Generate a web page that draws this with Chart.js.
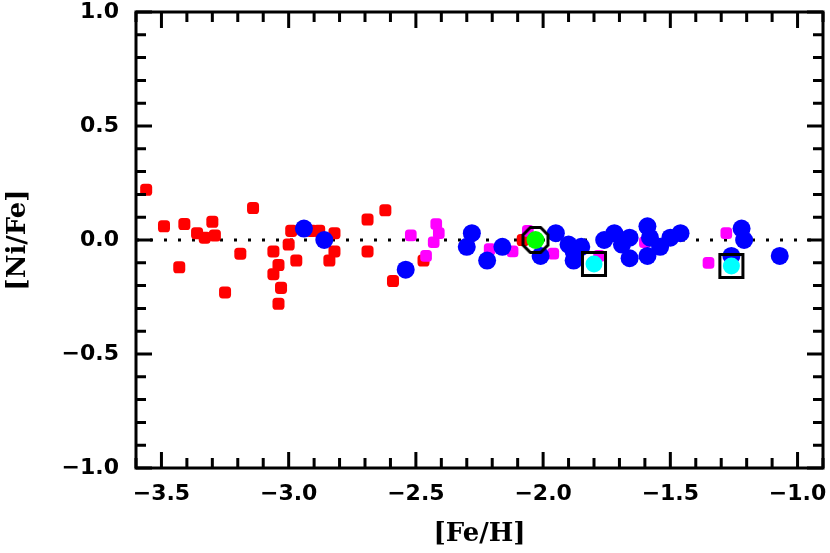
<!DOCTYPE html>
<html>
<head>
<meta charset="utf-8">
<script src="https://cdn.jsdelivr.net/npm/chart.js@4.4.1/dist/chart.umd.min.js"></script>
<style>
html,body{margin:0;padding:0;background:#fff;}
#c{display:block;}
</style>
</head>
<body>
<canvas id="c" width="830" height="553" style="width:830px;height:553px"></canvas>
<script>
// ---- data ----
const redX = [-3.56,-3.49,-3.41,-3.43,-3.36,-3.33,-3.30,-3.29,-3.25,-3.19,-3.14,-3.06,-3.04,-3.06,-3.03,-3.04,-2.99,-3.00,-2.97,-2.91,-2.88,-2.82,-2.82,-2.84,-2.69,-2.62,-2.69,-2.59,-2.47,-2.08];
const redY = [0.22,0.06,0.07,-0.12,0.03,0.01,0.08,0.02,-0.23,-0.06,0.14,-0.05,-0.11,-0.15,-0.21,-0.28,0.04,-0.02,-0.09,0.04,0.04,0.03,-0.05,-0.09,0.09,0.13,-0.05,-0.18,-0.09,0.00];

const magX = [-2.52,-2.42,-2.41,-2.43,-2.46,-2.21,-2.12,-2.06,-1.96,-1.78,-1.60,-1.28,-1.35];
const magY = [0.02,0.07,0.03,-0.01,-0.07,-0.04,-0.05,0.04,-0.06,-0.07,-0.01,0.03,-0.10];

const blueX = [-2.94,-2.86,-2.54,-2.28,-2.30,-2.22,-2.16,-2.01,-1.95,-1.90,-1.88,-1.88,-1.85,-1.76,-1.72,-1.69,-1.66,-1.66,-1.59,-1.58,-1.59,-1.54,-1.50,-1.46,-1.22,-1.21,-1.26,-1.07];
const blueY = [0.05,0.00,-0.13,0.03,-0.03,-0.09,-0.03,-0.07,0.03,-0.02,-0.09,-0.05,-0.03,0.00,0.03,-0.02,0.01,-0.08,0.06,0.01,-0.07,-0.03,0.01,0.03,0.05,0.00,-0.07,-0.07];

const greenX = [-2.03];
const greenY = [0.00];

const cyanX = [-1.80,-1.26];
const cyanY = [-0.105,-0.114];

const xTicks = [-3.5,-3.0,-2.5,-2.0,-1.5,-1.0];
const yTicks = [-1.0,-0.5,0.0,0.5,1.0];
const xRange = [-3.6,-0.9];
const yRange = [-1.0,1.0];
const refLine = [0.0];

// ---- helpers ----
const pts = (xs, ys) => xs.map((v,i)=>({x:v, y:ys[i]}));
const fmt = v => { const s = Number(v).toFixed(1); return s.replace('-', '\u2212'); };

function makeOctagon(){
  const c = document.createElement('canvas');
  c.width = 32; c.height = 32;
  const g = c.getContext('2d');
  g.lineWidth = 3; g.strokeStyle = '#000'; g.lineJoin = 'miter';
  g.beginPath();
  for (let i=0;i<8;i++){
    const a = Math.PI/8 + i*Math.PI/4;
    const px = 16 + 13.5*Math.cos(a), py = 16 + 13.5*Math.sin(a);
    if (i===0) g.moveTo(px,py); else g.lineTo(px,py);
  }
  g.closePath(); g.stroke();
  return c;
}

const framePlugin = {
  id: 'frame',
  afterDatasetsDraw(chart){
    const {ctx, chartArea:a, scales:{x, y}} = chart;
    ctx.save();
    ctx.strokeStyle = '#000';
    ctx.lineWidth = 3;
    ctx.lineCap = 'butt';
    ctx.strokeRect(a.left, a.top, a.right-a.left, a.bottom-a.top);
    const xi0 = Math.round(xRange[0]*10), xi1 = Math.round(xRange[1]*10);
    for (let i=xi0;i<=xi1;i++){
      const major = (i % 5) === 0;
      const L = major ? 16 : 10;
      const px = x.getPixelForValue(i/10);
      ctx.beginPath();
      ctx.moveTo(px, a.bottom); ctx.lineTo(px, a.bottom - L);
      ctx.moveTo(px, a.top); ctx.lineTo(px, a.top + L);
      ctx.stroke();
    }
    const yi0 = Math.round(yRange[0]*10), yi1 = Math.round(yRange[1]*10);
    for (let i=yi0;i<=yi1;i++){
      const major = (i % 5) === 0;
      const L = major ? 16 : 10;
      const py = y.getPixelForValue(i/10);
      ctx.beginPath();
      ctx.moveTo(a.left, py); ctx.lineTo(a.left + L, py);
      ctx.moveTo(a.right, py); ctx.lineTo(a.right - L, py);
      ctx.stroke();
    }
    ctx.restore();
  }
};

const tickFont = {family:'"DejaVu Sans", sans-serif', weight:'bold', size:22, lineHeight:0.4};
const titleFont = {family:'"DejaVu Serif", serif', weight:'bold', size:26};

new Chart(document.getElementById('c'), {
  type: 'scatter',
  data: {
    datasets: [
      {label:'boxes', data: pts(cyanX, cyanY), pointStyle:'rect', pointRadius:16.3, backgroundColor:'rgba(0,0,0,0)', borderColor:'#000', borderWidth:3, order:0},
      {label:'cyan', data: pts(cyanX, cyanY), pointStyle:'circle', pointRadius:8.5, backgroundColor:'#00FFFF', borderWidth:0, order:1},
      {label:'ring', data: pts(greenX, greenY), pointStyle: makeOctagon(), pointRadius:14, order:2},
      {label:'green', data: pts(greenX, greenY), pointStyle:'circle', pointRadius:9, backgroundColor:'#00FF00', borderWidth:0, order:3},
      {label:'blue', data: pts(blueX, blueY), pointStyle:'circle', pointRadius:9, backgroundColor:'#0000FF', borderWidth:0, order:4},
      {label:'magenta', data: pts(magX, magY), pointStyle:'rectRounded', pointRadius:6.8, backgroundColor:'#FF00FF', borderWidth:0, order:5},
      {label:'red', data: pts(redX, redY), pointStyle:'rectRounded', pointRadius:7, backgroundColor:'#FF0000', borderWidth:0, order:6},
      {label:'zero', data: [{x:xRange[0], y:refLine[0]},{x:xRange[1], y:refLine[0]}], showLine:true, pointRadius:0, borderColor:'#000', borderWidth:3, borderDash:[3,11], borderCapStyle:'butt', order:7}
    ]
  },
  options: {
    responsive: false,
    animation: false,
    devicePixelRatio: 1,
    events: [],
    layout: {autoPadding:false, padding: {top:12, right:7, left:0, bottom:0}},
    plugins: {legend:{display:false}, tooltip:{enabled:false}},
    scales: {
      x: {
        type:'linear', min:xRange[0], max:xRange[1],
        grid:{display:false, drawTicks:true, tickLength:22}, border:{display:false},
        afterBuildTicks: s => { s.ticks = xTicks.map(v=>({value:v})); },
        afterFit: s => { s.height = 85; },
        ticks:{color:'#000', font:tickFont, padding:0, maxRotation:0, autoSkip:false, callback: v => fmt(v)},
        title:{display:true, text:'[Fe/H]', color:'#000', font:titleFont, padding:{top:0,bottom:3}}
      },
      y: {
        type:'linear', min:yRange[0], max:yRange[1],
        grid:{display:false, drawTicks:true, tickLength:17}, border:{display:false},
        afterBuildTicks: s => { s.ticks = yTicks.map(v=>({value:v})); },
        afterFit: s => { s.width = 136; },
        ticks:{color:'#000', font:tickFont, padding:0, autoSkip:false, callback: v => fmt(v)},
        title:{display:true, text:'[Ni/Fe]', color:'#000', font:titleFont, padding:{top:3,bottom:0}}
      }
    }
  },
  plugins: [framePlugin]
});
</script>
</body>
</html>
